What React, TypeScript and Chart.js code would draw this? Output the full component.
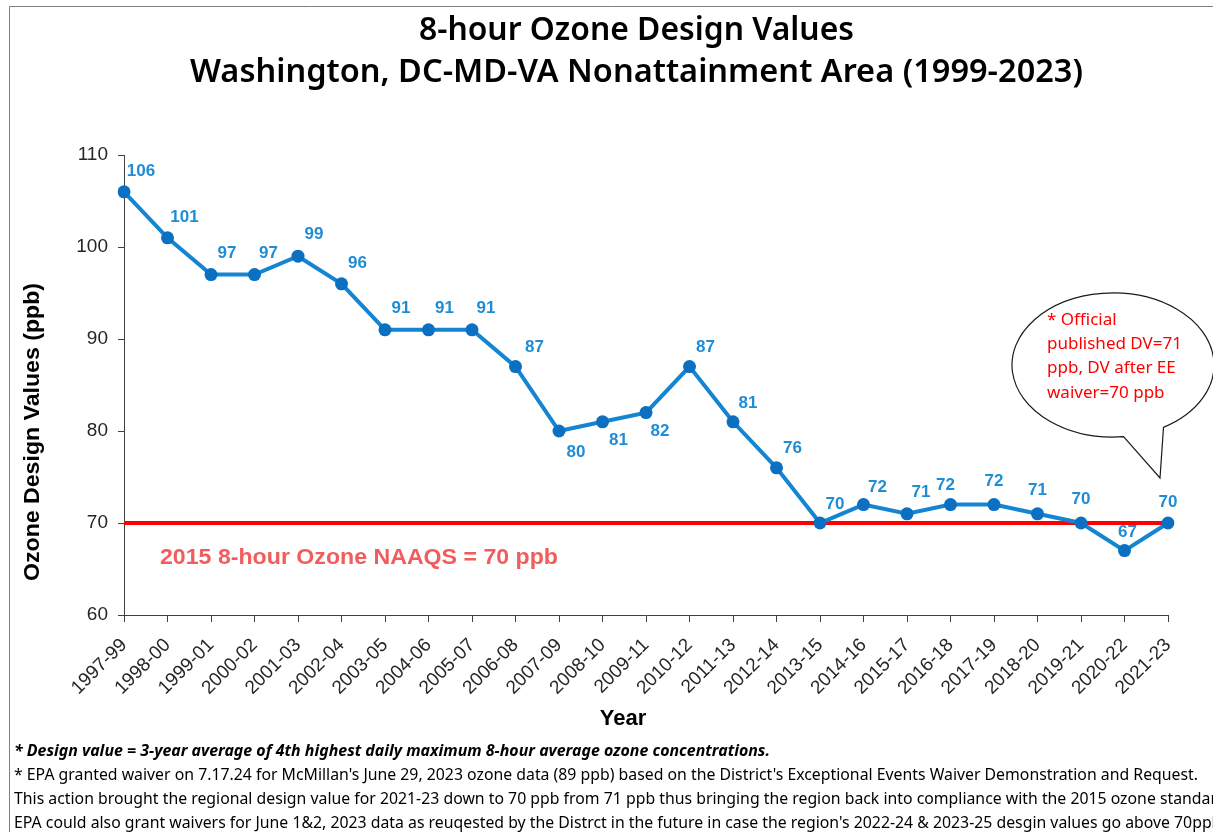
import React, { useEffect, useRef } from "react";
import { Chart, registerables } from "chart.js";

Chart.register(...registerables);

const categories = [
  "1997-99", "1998-00", "1999-01", "2000-02", "2001-03", "2002-04", "2003-05",
  "2004-06", "2005-07", "2006-08", "2007-09", "2008-10", "2009-11", "2010-12",
  "2011-13", "2012-14", "2013-15", "2014-16", "2015-17", "2016-18", "2017-19",
  "2018-20", "2019-21", "2020-22", "2021-23",
];
const designValues = [
  106, 101, 97, 97, 99, 96, 91, 91, 91, 87, 80, 81, 82, 87, 81, 76, 70, 72, 71,
  72, 72, 71, 70, 67, 70,
];
const naaqsValue = 70;
const yMin = 60;
const yMax = 110;
const yStep = 10;

// label offsets (style only)
const labelDx = [17, 17, 16, 14, 16, 16, 16, 16, 14, 19, 17, 16, 14, 16, 15, 16, 15, 14, 14, -5, 0, 0, 0, 3, 0];
const labelDy = [-20, -20, -21, -21, -22, -20, -21, -21, -21, -19, 21, 19, 19, -19, -18, -19, -19, -17, -21, -19, -23, -23, -24, -18, -21];

const titleLines = [
  "8-hour Ozone Design Values",
  "Washington, DC-MD-VA Nonattainment Area (1999-2023)",
];
const yAxisTitle = "Ozone Design Values (ppb)";
const xAxisTitle = "Year";
const naaqsLabel = "2015 8-hour Ozone NAAQS = 70 ppb";
const calloutLines = [
  "* Official",
  "published DV=71",
  "ppb, DV after EE",
  "waiver=70 ppb",
];
const footnoteBold =
  "* Design value = 3-year average of 4th highest daily maximum 8-hour average ozone concentrations.";
const footnoteLines = [
  "* EPA granted waiver on 7.17.24 for McMillan's June 29, 2023 ozone data (89 ppb) based on the District's Exceptional Events Waiver Demonstration and Request.",
  "This action brought the regional design value for 2021-23 down to 70 ppb from 71 ppb thus bringing the region back into compliance with the 2015 ozone standard.",
  "EPA could also grant waivers for June 1&2, 2023 data as reuqested by the Distrct in the future in case the region's 2022-24 & 2023-25 desgin values go above 70ppb.",
];

const W = 1213;
const H = 832;

function fitText(
  ctx: CanvasRenderingContext2D,
  text: string,
  x: number,
  y: number,
  width: number,
  align: CanvasTextAlign
) {
  const w = ctx.measureText(text).width;
  const sx = width / w;
  ctx.save();
  ctx.translate(x, y);
  ctx.scale(sx, 1);
  ctx.textAlign = align;
  ctx.fillText(text, 0, 0);
  ctx.restore();
}

const overlayPlugin = {
  id: "overlay",
  beforeDraw(chart: any) {
    const ctx: CanvasRenderingContext2D = chart.ctx;
    ctx.save();
    ctx.fillStyle = "#ffffff";
    ctx.fillRect(0, 0, W, H);

    // frame
    ctx.strokeStyle = "#7f7f7f";
    ctx.lineWidth = 1;
    ctx.beginPath();
    ctx.moveTo(9.5, H);
    ctx.lineTo(9.5, 6.5);
    ctx.lineTo(W, 6.5);
    ctx.stroke();

    // titles
    ctx.fillStyle = "#000000";
    ctx.textBaseline = "middle";
    ctx.font = "600 33px 'Noto Sans'";
    fitText(ctx, titleLines[0], 636.5, 31, 435, "center");
    fitText(ctx, titleLines[1], 636.5, 73, 893, "center");

    // y axis title
    ctx.font = "bold 22px 'Liberation Sans'";
    ctx.save();
    ctx.translate(33, 432);
    ctx.rotate(-Math.PI / 2);
    ctx.textAlign = "center";
    fitText(ctx, yAxisTitle, 0, 0, 298, "center");
    ctx.restore();

    // x axis title
    ctx.font = "bold 22px 'Liberation Sans'";
    ctx.textAlign = "center";
    ctx.fillText(xAxisTitle, 623, 719);

    // footnotes
    ctx.textBaseline = "alphabetic";
    ctx.font = "italic bold 16px 'Noto Sans'";
    fitText(ctx, footnoteBold, 14, 756, 756, "left");
    ctx.font = "16px 'Noto Sans'";
    const w0 = ctx.measureText(footnoteLines[0]).width;
    const sx = 1184 / w0;
    footnoteLines.forEach((line, i) => {
      ctx.save();
      ctx.translate(14, 780 + i * 24);
      ctx.scale(sx, 1);
      ctx.textAlign = "left";
      ctx.fillText(line, 0, 0);
      ctx.restore();
    });
    ctx.restore();
  },
  beforeDatasetsDraw(chart: any) {
    const ctx: CanvasRenderingContext2D = chart.ctx;
    const area = chart.chartArea;
    const y = chart.scales.y.getPixelForValue(naaqsValue);
    ctx.save();
    ctx.strokeStyle = "#ff0000";
    ctx.lineWidth = 4;
    ctx.beginPath();
    ctx.moveTo(area.left, y);
    ctx.lineTo(area.right, y);
    ctx.stroke();

    // NAAQS label
    ctx.fillStyle = "#f25c5c";
    ctx.font = "bold 22px 'Liberation Sans'";
    ctx.textBaseline = "middle";
    fitText(ctx, naaqsLabel, 160, 558, 398, "left");
    ctx.restore();
  },
  afterDatasetsDraw(chart: any) {
    const ctx: CanvasRenderingContext2D = chart.ctx;
    const meta = chart.getDatasetMeta(0);
    ctx.save();
    ctx.fillStyle = "#1f8dd6";
    ctx.font = "bold 17px 'Liberation Sans'";
    ctx.textAlign = "center";
    ctx.textBaseline = "middle";
    meta.data.forEach((pt: any, i: number) => {
      ctx.fillText(String(designValues[i]), pt.x + labelDx[i], pt.y + labelDy[i]);
    });

    // callout bubble with tail
    const cx = 1113;
    const cy = 365;
    const rx = 101;
    const ry = 72;
    const tailStart = (84 * Math.PI) / 180;
    const tailEnd = (60 * Math.PI) / 180;
    ctx.beginPath();
    ctx.ellipse(cx, cy, rx, ry, 0, tailStart, tailEnd, false);
    ctx.lineTo(1160, 478);
    ctx.closePath();
    ctx.fillStyle = "#ffffff";
    ctx.fill();
    ctx.strokeStyle = "#1a1a1a";
    ctx.lineWidth = 1.2;
    ctx.stroke();

    ctx.fillStyle = "#ff0000";
    ctx.font = "17px 'Noto Sans'";
    ctx.textBaseline = "middle";
    const ref = ctx.measureText(calloutLines[1]).width;
    const s = 135 / ref;
    calloutLines.forEach((line, i) => {
      ctx.save();
      ctx.translate(1047, 320 + i * 24.3);
      ctx.scale(s, 1);
      ctx.textAlign = "left";
      ctx.fillText(line, 0, 0);
      ctx.restore();
    });
    ctx.restore();
  },
};

export default function App() {
  const canvasRef = useRef<HTMLCanvasElement | null>(null);

  useEffect(() => {
    const canvas = canvasRef.current;
    if (!canvas) return;
    const chart = new Chart(canvas, {
      type: "line",
      data: {
        labels: categories,
        datasets: [
          {
            data: designValues,
            borderColor: "#1385d2",
            borderWidth: 4,
            pointRadius: 6.5,
            pointBackgroundColor: "#0b6fc2",
            pointBorderColor: "#0b6fc2",
            pointBorderWidth: 0,
            tension: 0,
          },
        ],
      },
      options: {
        animation: false,
        responsive: false,
        maintainAspectRatio: false,
        layout: { padding: { top: 155, right: 45, bottom: 0, left: 0 } },
        plugins: {
          legend: { display: false },
          title: { display: false },
          tooltip: { enabled: false },
        },
        scales: {
          x: {
            type: "category",
            offset: false,
            grid: {
              display: true,
              drawOnChartArea: false,
              drawTicks: true,
              tickLength: 7,
              color: "#404040",
            },
            border: { display: true, color: "#404040", width: 1 },
            ticks: {
              autoSkip: false,
              minRotation: 45,
              maxRotation: 45,
              padding: 12,
              color: "#262626",
              font: { family: "'Liberation Sans'", size: 19 },
            },
            afterFit: (s: any) => {
              s.height = 217;
            },
          },
          y: {
            min: yMin,
            max: yMax,
            grid: {
              display: true,
              drawOnChartArea: false,
              drawTicks: true,
              tickLength: 6,
              color: "#404040",
            },
            border: { display: true, color: "#404040", width: 1 },
            ticks: {
              stepSize: yStep,
              padding: 10,
              color: "#262626",
              font: { family: "'Liberation Sans'", size: 19 },
            },
            afterFit: (s: any) => {
              s.width = 124;
            },
          },
        },
      },
      plugins: [overlayPlugin],
    });
    return () => chart.destroy();
  }, []);

  return (
    <div style={{ position: "fixed", left: 0, top: 0, width: W, height: H, background: "#fff" }}>
      <canvas ref={canvasRef} width={W} height={H} style={{ display: "block", width: W, height: H }} />
    </div>
  );
}
